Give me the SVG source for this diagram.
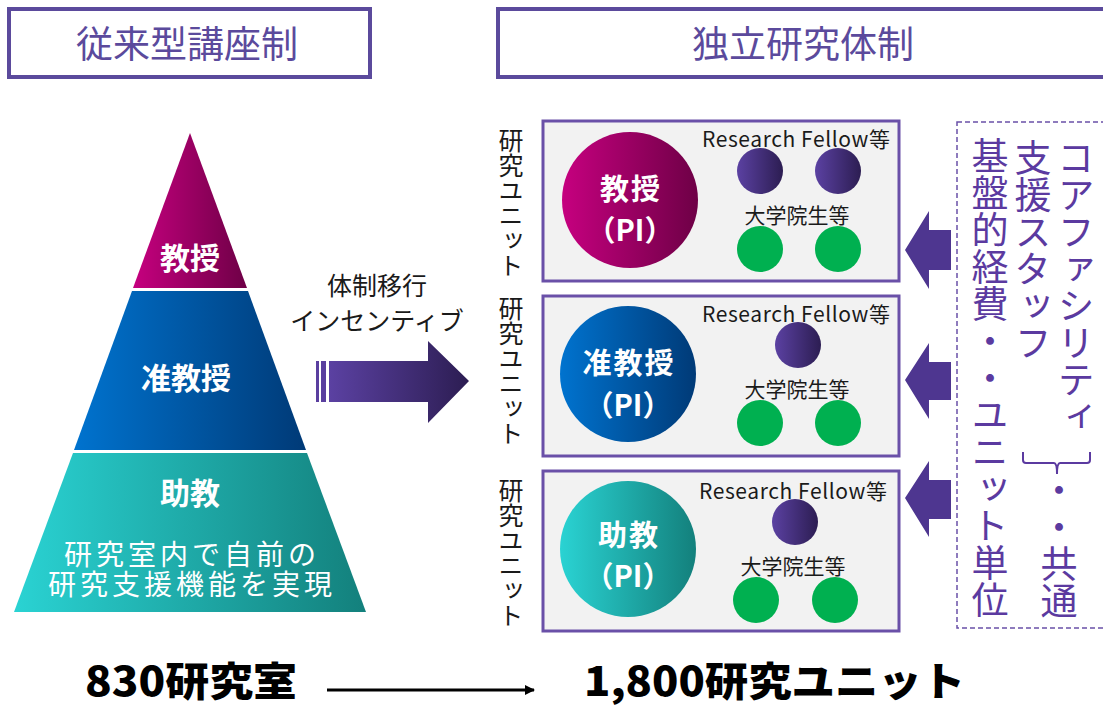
<svg xmlns="http://www.w3.org/2000/svg" width="1103" height="708" viewBox="0 0 1103 708">
<defs>
<linearGradient id="gMag" x1="0" y1="0" x2="1" y2="0"><stop offset="0" stop-color="#C6007F"/><stop offset="1" stop-color="#6E0046"/></linearGradient>
<linearGradient id="gBlue" x1="0" y1="0" x2="1" y2="0"><stop offset="0" stop-color="#0073CF"/><stop offset="1" stop-color="#003A77"/></linearGradient>
<linearGradient id="gTeal" x1="0" y1="0" x2="1" y2="0"><stop offset="0" stop-color="#2AD3D3"/><stop offset="1" stop-color="#13807C"/></linearGradient>
<linearGradient id="gPur" x1="0" y1="0" x2="1" y2="0"><stop offset="0" stop-color="#5B41A2"/><stop offset="1" stop-color="#2C1D52"/></linearGradient>
<marker id="ah" markerWidth="10" markerHeight="10" refX="9" refY="5" orient="auto" markerUnits="userSpaceOnUse"><path d="M0,0 L10,5 L0,10 Z" fill="#000"/></marker>
</defs>
<style>
text{font-family:"Noto Sans CJK JP","Noto Sans",sans-serif}
.title{fill:#5B4A9C;font-size:37px;text-anchor:middle;dominant-baseline:central}
.tbox{fill:#fff;stroke:#5B4A9C;stroke-width:4}
.unit{fill:#F2F2F2;stroke:#6A50A8;stroke-width:3}
.wb{fill:#fff;font-weight:bold;text-anchor:middle;dominant-baseline:central}
.w{fill:#fff;text-anchor:middle;dominant-baseline:central}
.blk{fill:#1a1a1a;text-anchor:middle;dominant-baseline:central}
.vl{fill:#1a1a1a;font-size:25px;writing-mode:vertical-rl}
.vr{fill:#5B3AA0;font-size:37px;writing-mode:vertical-rl}
.rf{fill:#1a1a1a;font-size:21px;text-anchor:middle;dominant-baseline:central}
.gs{fill:#1a1a1a;font-size:21px;text-anchor:middle;dominant-baseline:central}
.green{fill:#00B050}
.sm{fill:url(#gPur)}
.larr{fill:#4E3690}
.big{font-size:40px;font-weight:900;fill:#000}
</style>

<g id="title-left">
<rect class="tbox" x="9" y="9" width="361" height="68"/>
<text class="title" x="187" y="42">従来型講座制</text>
</g>
<g id="title-right">
<rect class="tbox" x="498" y="9" width="620" height="68"/>
<text class="title" x="803" y="42">独立研究体制</text>
</g>

<g id="pyramid">
<g id="p-top">
<polygon points="190,133 247,288 133,288" fill="url(#gMag)"/>
<text class="wb" x="190" y="256" font-size="30">教授</text>
</g>
<g id="p-mid">
<polygon points="132,291 248,291 306,450 74,450" fill="url(#gBlue)"/>
<text class="wb" x="186" y="376" font-size="30">准教授</text>
</g>
<g id="p-bot">
<polygon points="73,453 307,453 366,612 14,612" fill="url(#gTeal)"/>
<text class="wb" x="190" y="491" font-size="30">助教</text>
<text class="w" x="192" y="553" font-size="28" letter-spacing="4">研究室内で自前の</text>
<text class="w" x="192" y="583" font-size="28" letter-spacing="4">研究支援機能を実現</text>
</g>
</g>

<g id="transition">
<text class="blk" x="377" y="284" font-size="25">体制移行</text>
<text class="blk" x="377" y="319" font-size="25">インセンティブ</text>
<rect x="316" y="361" width="3" height="41" fill="#5A3F9F"/>
<rect x="321" y="361" width="5" height="41" fill="#5A3F9F"/>
<path d="M329,361 L428,361 L428,341 L469,381 L428,423 L428,402 L329,402 Z" fill="url(#gPur)"/>
</g>

<g id="unit1">
<text class="vl" x="511" y="128">研究ユニット</text>
<rect class="unit" x="543" y="121" width="356" height="160"/>
<circle cx="630" cy="200" r="68" fill="url(#gMag)"/>
<text class="wb" x="631" y="187" font-size="29" letter-spacing="2">教授</text>
<text class="wb" x="630" y="228" font-size="29">（PI）</text>
<text class="rf" x="796" y="138" textLength="188">Research Fellow等</text>
<circle class="sm" cx="760" cy="171" r="23"/>
<circle class="sm" cx="838" cy="171" r="23"/>
<text class="gs" x="797" y="214">大学院生等</text>
<circle class="green" cx="760" cy="249" r="23"/>
<circle class="green" cx="838" cy="249" r="23"/>
</g>

<g id="unit2">
<text class="vl" x="511" y="296">研究ユニット</text>
<rect class="unit" x="543" y="296" width="356" height="160"/>
<circle cx="628" cy="374" r="68" fill="url(#gBlue)"/>
<text class="wb" x="629" y="361" font-size="29" letter-spacing="2">准教授</text>
<text class="wb" x="628" y="403" font-size="29">（PI）</text>
<text class="rf" x="796" y="313" textLength="188">Research Fellow等</text>
<circle class="sm" cx="798" cy="345" r="23"/>
<text class="gs" x="797" y="388">大学院生等</text>
<circle class="green" cx="760" cy="423" r="23"/>
<circle class="green" cx="838" cy="423" r="23"/>
</g>

<g id="unit3">
<text class="vl" x="511" y="478">研究ユニット</text>
<rect class="unit" x="543" y="471" width="356" height="160"/>
<circle cx="628" cy="549" r="68" fill="url(#gTeal)"/>
<text class="wb" x="629" y="533" font-size="29" letter-spacing="2">助教</text>
<text class="wb" x="628" y="574" font-size="29">（PI）</text>
<text class="rf" x="793" y="490" textLength="188">Research Fellow等</text>
<circle class="sm" cx="795" cy="522" r="23"/>
<text class="gs" x="793" y="565">大学院生等</text>
<circle class="green" cx="756" cy="600" r="23"/>
<circle class="green" cx="835" cy="600" r="23"/>
</g>

<g id="support">
<rect x="957" y="122" width="160" height="506" fill="none" stroke="#6A50A8" stroke-width="1.5" stroke-dasharray="5 3"/>
<text class="vr" x="990" y="137">基盤的経費・・ユニット単位</text>
<text class="vr" x="1033" y="139">支援スタッフ</text>
<text class="vr" x="1076" y="139">コアファシリティ</text>
<path d="M1023,452 L1023,460 Q1023,463 1026,463 L1054,463 Q1057,463 1057,474 Q1057,463 1060,463 L1087,463 Q1090,463 1090,460 L1090,452" fill="none" stroke="#5B3AA0" stroke-width="2"/>
<text class="vr" x="1059" y="471">・・共通</text>
</g>

<g id="connectors">
<path class="larr" d="M905,250 L929,211 L929,230 L951,230 L951,270 L929,270 L929,289 Z"/>
<path class="larr" d="M905,380 L929,343 L929,362 L951,362 L951,400 L929,400 L929,419 Z"/>
<path class="larr" d="M905,498 L929,461 L929,480 L951,480 L951,519 L929,519 L929,537 Z"/>
<line x1="327" y1="690" x2="534" y2="690" stroke="#000" stroke-width="3" marker-end="url(#ah)"/>
</g>

<g id="bottom-left"><text class="big" x="85" y="696" textLength="212" lengthAdjust="spacingAndGlyphs">830研究室</text></g>
<g id="bottom-right"><text class="big" x="584" y="696" textLength="381" lengthAdjust="spacingAndGlyphs">1,800研究ユニット</text></g>
</svg>
